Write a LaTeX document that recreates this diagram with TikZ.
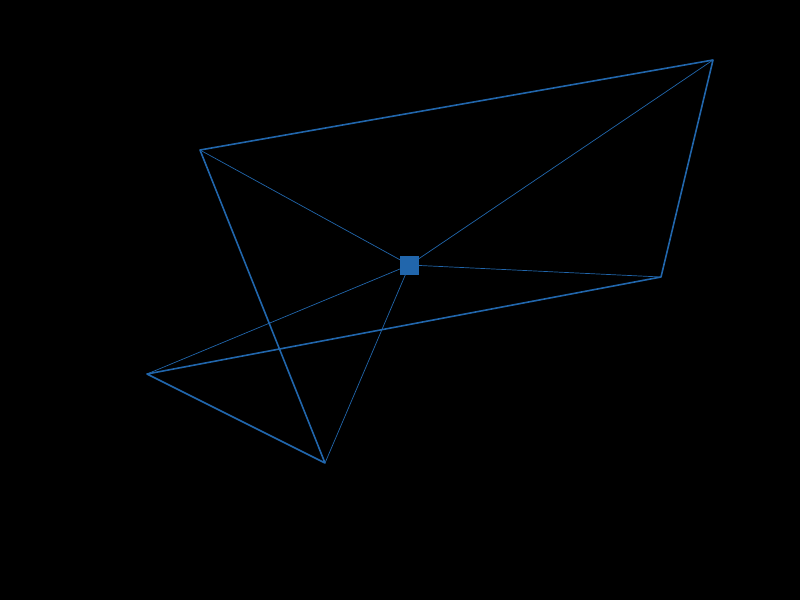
\documentclass[tikz,border=0pt]{standalone}
\begin{document}
\begin{tikzpicture}[x=1pt,y=-1pt,
  edge/.style={draw=blu,line width=1.6pt},
  spoke/.style={draw=blu,line width=0.7pt},
  hub/.style={fill=blu,minimum size=19pt,inner sep=0pt}]
\definecolor{blu}{HTML}{2166AC}
\fill[black] (0,0) rectangle (800,600);
\useasboundingbox (0,0) rectangle (800,600);
\coordinate (a) at (200,150);
\coordinate (b) at (713,60);
\coordinate (c) at (661,277);
\coordinate (d) at (147,374);
\coordinate (e) at (325,463);
\coordinate (m) at (409.5,265);
\draw[spoke] (m) -- (a);
\draw[spoke] (m) -- (b);
\draw[spoke] (m) -- (c);
\draw[spoke] (m) -- (d);
\draw[spoke] (m) -- (e);
\draw[edge,line join=round] (a) -- (b) -- (c) -- (d) -- (e) -- cycle;
\node[hub] (hubnode) at (m) {};
\end{tikzpicture}
\end{document}
